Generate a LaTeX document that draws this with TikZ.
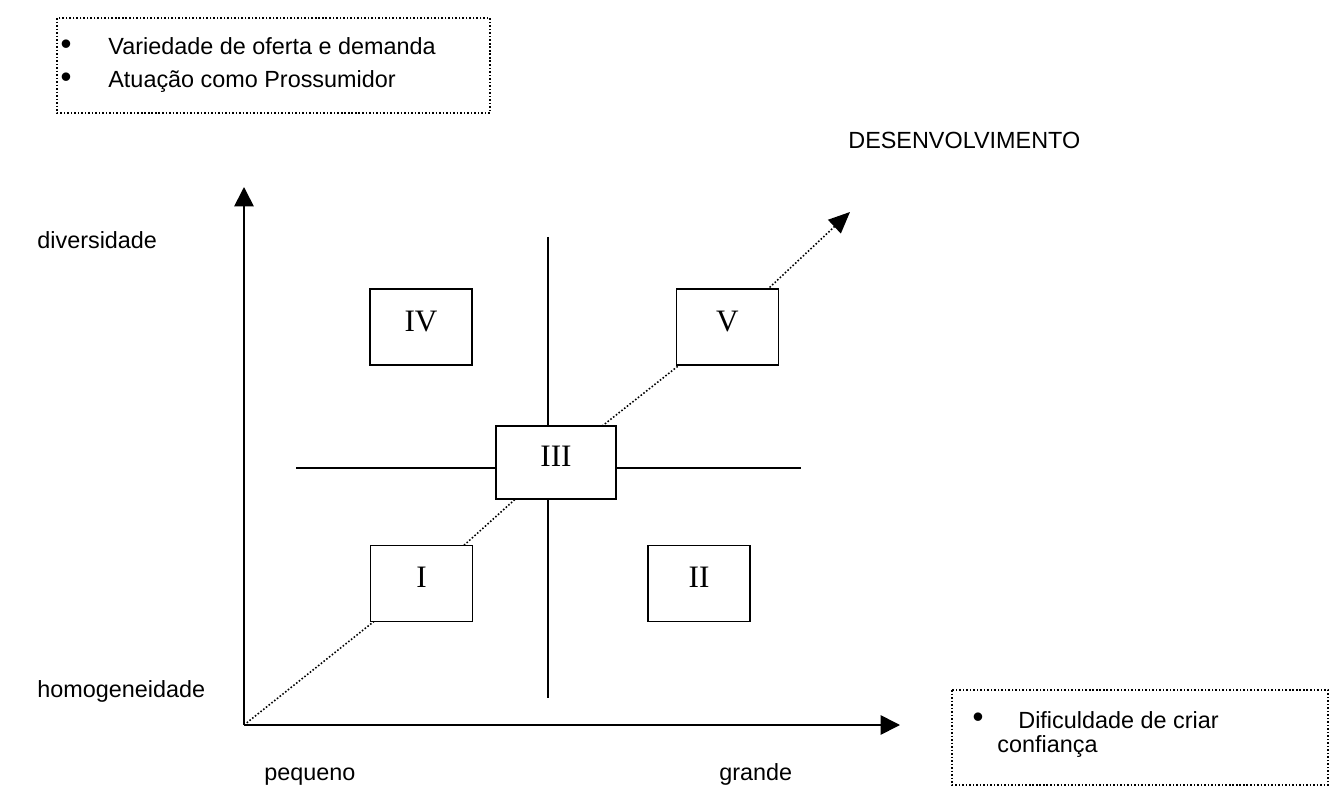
\documentclass[tikz,border=0pt]{standalone}
\usepackage{fontspec}
\setmainfont{Liberation Sans}
\newfontfamily\romanfont{Liberation Serif}
\usetikzlibrary{arrows.meta,backgrounds}
\begin{document}
\begin{tikzpicture}[x=0.513pt,y=-0.513pt,
  axis/.style={line width=0.85pt,-{Triangle[length=10pt,width=10pt]}},
  rule/.style={line width=0.85pt},
  devline/.style={line width=0.8pt,dash pattern=on 0.8pt off 1pt,-{Triangle[length=11pt,width=9.5pt]}},
  quad/.style={draw,line width=0.85pt,fill=white,inner sep=0pt,
    font=\romanfont\fontsize{16}{19}\selectfont,text depth=6pt},
  smallquad/.style={quad,minimum width=52.3pt,minimum height=39pt},
  note/.style={line width=0.8pt,dash pattern=on 0.8pt off 1pt},
  lbl/.style={font=\fontsize{12}{14}\selectfont,anchor=west,inner sep=0pt},
  bl/.style={lbl,anchor=base west},
  dot/.style={font=\fontsize{16}{16}\selectfont,inner sep=0pt}]
\useasboundingbox (0,0) rectangle (1329,787);
% notes
\draw[note] (57,18) rectangle (490,113);
\node[dot] (b1) at (66,47) {•};
\node[bl] (t1) at (108,55) {Variedade de oferta e demanda};
\node[dot] (b2) at (66,80) {•};
\node[bl] (t2) at (108,88) {Atuação como Prossumidor};
\draw[note] (952,690) rectangle (1328,785);
\node[dot] (b3) at (978,720) {•};
\node[bl] (t3) at (1018,728) {Dificuldade de criar};
\node[bl] (t4) at (997,752) {confiança};
% labels
\node[bl] (dev) at (848,149) {DESENVOLVIMENTO};
\node[bl] (div) at (37,249) {diversidade};
\node[bl] (hom) at (37,697) {homogeneidade};
\node[bl] (peq) at (264,780) {pequeno};
\node[bl] (gra) at (719,780) {grande};
% axes
\coordinate (O) at (244,725);
\coordinate (ytip) at (244,187);
\coordinate (xtip) at (900,725);
\coordinate (dtip) at (850,212);
\draw[axis] (O) -- (ytip);
\draw[axis] (O) -- (xtip);
% quadrant boxes
\node[quad,minimum width=61.6pt,minimum height=37.4pt] (III) at (556,462.5) {III};
\node[smallquad] (IV) at (421,327) {IV};
\node[smallquad] (V) at (727.5,327) {V};
\node[smallquad] (I) at (421.5,583.5) {I};
\node[smallquad] (II) at (699,583.5) {II};
% cross lines and development line behind the boxes
\coordinate (vt) at (548,237);
\coordinate (vb) at (548,698);
\coordinate (hl) at (296,468);
\coordinate (hr) at (801,468);
\begin{scope}[on background layer]
\draw[rule] (vt) -- (vb);
\draw[rule] (hl) -- (hr);
\draw[devline] (O) -- (I.center) -- (III.center) -- (V.center) -- (dtip);
\end{scope}
\end{tikzpicture}
\end{document}
